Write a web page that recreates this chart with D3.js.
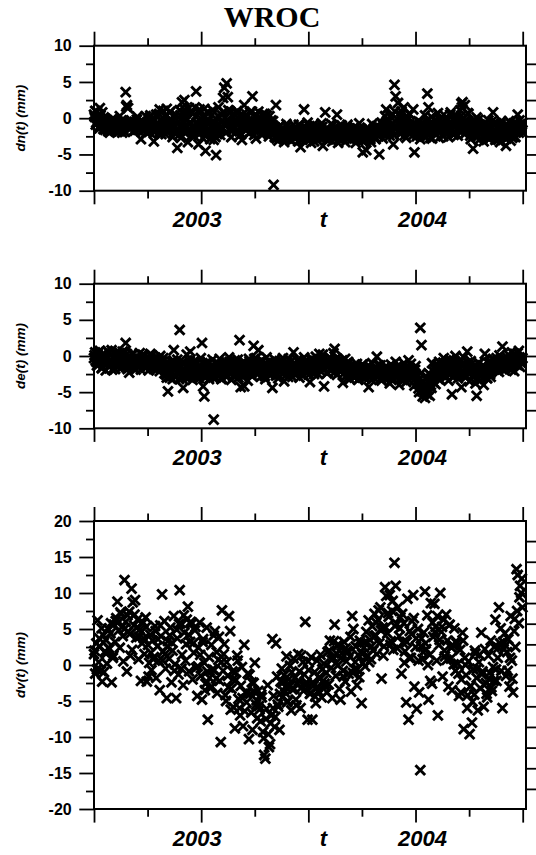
<!DOCTYPE html>
<html>
<head>
<meta charset="utf-8">
<script src="https://cdn.jsdelivr.net/npm/d3@7"></script>
<style>
  body { margin: 0; background: #fff; }
  .tick text { font: bold 16px "Liberation Sans", Arial, sans-serif; fill: #000; }
  .tick line { stroke: #000; stroke-width: 1.8; }
</style>
</head>
<body>
<script>
// sampling starts mid 2002; the main arrays hold one value every 2 days,
// the "2" arrays hold readings from the days in between
const startYear = 2002.5;

const dnValues = [
  0.5, 1.0, -0.6, 0.2, -1.2, 1.4, -0.4, 0.8, -1.5, -0.2,
  -1.1, -0.5, -1.8, -0.7, -1.3, -0.2, -1.6, -0.9, -0.3, -1.9,
  -0.8, -1.4, 0.3, -1.0, -2.0, -0.6, -1.2, 3.6, 1.8, 1.4,
  -0.7, -1.3, -0.4, -1.1, -0.6, -1.7, -0.9, 0.2, -1.4, -0.8,
  -2.9, -1.0, -0.5, -1.6, 0.3, -1.2, -0.7, -1.9, 0.4, -1.1,
  -0.6, -3.2, -1.4, 0.5, -0.9, -2.1, 1.2, -0.3, -1.5, 1.0,
  -0.8, -2.2, 1.3, -0.4, -1.7, 0.9, -1.2, -2.6, 0.2, -1.0,
  -1.8, -4.1, -0.5, 1.1, -2.7, 2.2, -1.3, 2.5, 0.6, -1.9,
  -3.3, 1.4, -0.7, -2.4, 0.8, -1.1, 1.5, 3.7, -0.9, -3.6,
  1.2, -1.6, -0.2, -2.8, 1.3, -4.5, -0.4, -1.8, 0.7, -2.9,
  -1.3, 1.1, -3.0, -0.6, -5.1, -2.2, 1.5, -0.8, -1.7, 0.4,
  2.8, 4.2, -1.1, 4.8, 2.9, -0.5, 0.9, -2.6, -1.4, 0.6,
  -0.3, -1.9, 1.0, -0.8, -2.4, 0.3, -3.0, -0.6, 1.8, -1.2,
  0.5, -0.9, -2.1, 0.8, -0.4, 3.0, -1.5, 0.2, -2.8, -0.7,
  0.9, -1.3, -0.2, -2.3, 0.6, -1.0, -1.8, 0.4, -0.6, -2.5,
  -1.4, -0.3, -2.0, -9.2, -2.6, 1.8, -1.7, -3.1, -2.2, -1.0,
  -2.7, -1.6, -3.3, -2.1, -0.8, -2.5, -1.4, -3.0, -1.9, -2.4,
  -0.9, -2.8, -1.5, -2.2, -3.2, -1.1, -4.0, -2.0, -2.6, 1.2,
  -1.3, -2.9, -0.6, -2.3, -1.7, -3.4, -2.1, -0.9, -2.6, -1.5,
  -3.0, -2.0, -1.2, -2.7, -0.7, -3.8, -1.8, 0.8, -2.4, -1.4,
  -2.9, -1.9, -0.8, -3.2, -2.2, -1.3, -2.6, 0.5, -3.4, -1.7,
  -2.3, -1.0, -2.9, -1.6, -3.3, -2.1, -0.9, -2.5, -1.4, -3.0,
  -2.0, -2.7, -1.2, -3.4, -1.8, -2.4, -0.7, -2.9, -1.5, -4.7,
  -2.2, -3.1, -4.4, -1.3, -2.6, -1.9, -3.3, -0.8, -2.4, -1.6,
  -2.9, -1.1, -2.2, -5.0, -1.7, -0.6, -2.8, -1.2, 0.3, 1.2,
  -1.9, -0.5, -2.4, -1.0, 0.6, -3.6, 4.6, 3.0, -1.3, 2.1,
  -0.4, -2.2, 0.9, -1.6, 1.5, -0.8, -2.7, -0.2, -1.4, 0.5,
  -1.9, -0.9, 1.2, -4.7, -1.3, -2.5, -0.4, -1.8, -2.9, -0.7,
  -2.2, -1.1, 0.4, -2.6, 3.4, 1.5, -1.5, -0.6, -2.8, -1.2,
  -0.3, -2.1, -1.6, 0.7, -2.7, -1.0, -0.5, -2.3, 0.5, -1.4,
  -1.9, -0.2, -2.6, -0.8, 0.8, -1.5, -2.2, -0.4, -1.1, 0.3,
  -2.4, -0.9, 1.1, 2.0, 2.2, -1.3, 1.8, -2.0, -0.6, 0.6,
  -1.7, -2.9, -0.5, -4.2, -1.2, -2.4, 0.1, -1.6, -3.0, -0.9,
  -2.1, -1.4, -3.2, -0.6, -2.5, -1.8, -0.3, -2.8, -1.1, -2.2,
  0.8, -1.6, -3.0, -0.7, -2.3, -1.3, -3.3, -0.4, -2.0, -1.5,
  -2.7, -3.8, -1.0, -2.4, -0.5, -3.1, -1.7, -2.2, -0.8, -2.6,
  -1.2, 0.5, -2.0, -0.9, -1.5, -0.6
];

const dnValues2 = [
  0.2, -0.9, 0.9, -0.3, -1.4, 0.4, -0.8, -1.1, 0.1, -1.6,
  -0.4, -1.5, -0.9, -2.0, -0.6, -1.2, -0.1, -1.7, -0.8, -1.3,
  -0.5, -1.8, -1.1, -0.3, -1.5, -0.9, -1.9, 1.6, -0.6, -1.2,
  -1.5, -0.3, -1.0, -1.8, -0.5, -1.2, -0.2, -1.6, -0.9, -1.3,
  -0.4, -1.7, -0.8, -1.1, -2.0, -0.6, -1.4, 0.1, -0.9, -1.6,
  -1.2, -0.2, -1.8, -0.7, -1.3, 0.6, -1.0, -2.2, -0.5, -1.4,
  0.3, -1.1, -1.9, -0.6, 0.8, -1.5, -0.3, -1.2, -2.0, 0.5,
  -0.7, -1.6, -2.3, 0.4, -1.0, -0.4, -1.9, 1.2, -1.2, -0.2,
  -1.5, -0.8, 0.9, -1.8, -1.1, -2.5, 0.2, -0.6, -1.4, 0.7,
  -2.1, -0.9, -1.5, 0.4, -2.4, -1.1, 0.8, -0.3, -2.0, -1.2,
  0.5, -1.9, -0.7, -2.6, -1.0, 0.3, -1.5, -2.3, -0.4, -1.3,
  0.9, -0.8, -2.0, -0.2, 1.1, -1.4, -0.6, -1.8, 0.2, -1.1,
  -0.5, 0.7, -1.6, -0.1, -1.3, -2.2, 0.5, -0.9, -0.3, -1.7,
  0.2, -1.2, -0.6, -1.9, 0.9, -0.8, -2.3, -0.4, 0.4, -1.4,
  -0.9, 0.1, -1.6, -0.5, -2.1, 0.6, -1.1, -0.3, -1.8, 0.3,
  -0.8, -1.5, -0.4, -2.2, -1.3, -2.8, -1.9, -1.2, -2.6, -2.0,
  -1.5, -2.9, -1.8, -2.4, -1.1, -2.7, -2.0, -1.6, -3.1, -2.3,
  -1.8, -1.3, -2.6, -2.0, -0.9, -2.4, -1.7, -3.0, -1.4, -2.2,
  -2.5, -1.6, -2.0, -1.1, -2.8, -1.5, -2.3, -3.2, -1.8, -2.1,
  -1.4, -2.6, -1.9, -2.3, -1.2, -2.7, -2.0, -1.5, -3.0, -2.2,
  -1.7, -2.4, -2.0, -1.0, -2.7, -1.8, -2.2, -1.4, -2.9, -2.1,
  -1.5, -2.5, -1.9, -2.2, -1.2, -2.8, -2.0, -1.6, -2.4, -1.8,
  -2.3, -1.4, -2.6, -2.0, -2.9, -1.6, -2.2, -1.8, -3.1, -2.4,
  -1.7, -2.0, -2.6, -1.5, -2.3, -2.9, -1.9, -2.2, -1.4, -2.7,
  -2.1, -1.8, -2.5, -1.3, -2.0, -1.6, -1.0, -2.2, -1.5, -0.4,
  -1.1, -2.0, 0.2, -1.6, -0.8, -2.3, 0.9, -1.3, -0.2, -1.9,
  -1.0, 0.4, -1.8, -0.6, -2.4, -1.2, 0.3, -1.5, -0.9, -2.1,
  -1.3, -2.4, -0.7, -1.8, -1.0, -2.2, -1.5, -0.5, -2.0, -1.6,
  -0.9, -2.5, -1.4, -0.3, -1.9, -1.2, -2.7, 0.2, -1.7, -0.8,
  -1.5, -2.3, -0.6, -1.2, -0.1, -1.8, -1.3, -2.5, -0.9, -1.6,
  -0.4, -2.0, -1.1, 0.5, -1.6, -0.7, -2.3, -1.0, 0.2, -1.4,
  -0.6, -1.8, 0.3, 1.5, -0.9, -2.2, -0.3, -1.4, 0.7, -1.1,
  -2.4, -0.8, -1.5, -2.0, -0.4, -1.7, -2.6, -0.2, -1.3, -2.1,
  -1.4, -2.6, -0.9, -1.9, -2.3, -1.2, -2.9, -1.6, -0.5, -2.0,
  -1.8, -0.6, -2.4, -1.2, -3.0, -1.9, -0.9, -2.5, -1.4, -2.2,
  -1.0, -2.8, -1.6, -0.4, -2.1, -1.3, -2.7, -0.7, -1.5, -2.0,
  -0.8, -1.6, -0.3, -1.1, -1.9
];

const deValues = [
  -0.3, 0.5, -0.8, 0.2, -1.2, 0.7, -0.5, -1.6, 0.3, -0.9,
  -2.0, -0.2, 0.6, -1.3, -0.6, 0.8, -1.0, -0.4, -1.8, 0.1,
  -0.7, -1.4, 0.4, -0.2, -1.1, -0.6, 0.5, 1.8, 0.3, -1.5,
  -2.3, -0.4, -1.0, 0.2, -1.7, -0.6, -0.1, -1.3, -0.8, 0.4,
  -1.9, -0.5, -1.1, 0.0, -0.7, -1.5, -0.3, -0.9, 0.3, -1.2,
  -0.6, -1.8, -0.2, -1.0, -1.4, -0.4, -2.1, -0.8, -1.6, -0.3,
  -2.4, -1.1, -3.0, -4.9, -1.6, -2.6, -0.8, -3.2, 0.8, -1.9,
  -2.8, -0.5, -2.2, 3.6, -1.4, -3.1, -4.4, -1.0, -2.5, 0.2,
  -1.7, -2.9, 0.6, -1.2, -3.3, -2.0, -0.6, -2.7, -3.0, -1.5,
  -2.3, -0.3, 1.8, -4.2, -5.6, -1.9, -2.8, -0.9, -3.2, -1.6,
  -2.5, -0.5, -8.8, -2.1, -3.0, -1.2, -2.6, -0.4, -1.8, -3.1,
  -1.4, -2.4, -0.7, -2.9, -1.6, -0.2, -2.2, -3.3, -1.1, -2.0,
  -0.6, -2.7, -1.5, -3.0, 2.2, -4.3, -1.9, -0.8, -4.2, -2.6,
  -1.2, -3.4, -0.4, -2.1, -1.0, -2.8, 1.4, -1.7, -0.3, -2.4,
  0.8, -1.4, -2.9, -0.6, -2.0, -1.1, -3.2, -0.2, -1.8, -2.5,
  -0.9, -2.2, -4.4, -1.5, -0.5, -2.7, -1.3, -3.1, -0.7, -2.0,
  -1.6, -0.3, -3.5, -1.9, -2.6, -1.0, -0.4, -2.3, -1.4, -2.9,
  0.5, -1.2, -2.1, -0.6, -1.7, -3.0, -0.9, -2.4, -1.1, -0.2,
  -2.0, -1.5, -0.7, -2.6, -3.6, -1.3, -0.4, -1.8, -2.2, -0.1,
  -1.0, -2.5, 0.3, -0.5, -1.6, 0.2, -4.2, -1.2, -0.8, -2.3,
  -1.4, -0.3, -2.0, -1.1, 0.4, 1.0, -1.7, -2.6, -0.6, -1.3,
  -2.2, -0.9, -3.7, -1.5, -0.4, -2.7, -1.8, -1.0, -3.2, -2.1,
  -2.6, -1.4, -3.0, -2.0, -1.1, -3.3, -2.4, -1.7, -2.9, -1.2,
  -2.2, -3.1, -1.6, -2.7, -4.3, -1.9, -2.5, -1.0, -3.0, -2.3,
  -1.5, -0.1, -2.8, -2.0, -1.3, -3.4, -2.5, -1.8, -2.2, -3.0,
  -1.6, -2.7, -3.8, -1.2, -2.4, -3.2, -1.9, -0.8, -2.9, -2.1,
  -4.0, -1.5, -2.6, -3.3, -1.0, -2.3, -3.6, -1.8, -0.6, -2.7,
  -1.1, -3.0, -2.0, -4.1, -1.4, -2.8, -3.5, -5.0, 3.9, 1.5,
  -5.6, -4.4, -5.8, -3.2, -5.3, -2.4, -5.5, -4.0, -1.0, -3.6,
  -2.2, -3.9, -1.3, -2.7, -0.8, -3.3, -1.9, -2.5, -0.3, -1.6,
  -2.9, -1.0, -3.4, -0.5, -2.2, -5.3, -1.4, -2.8, 0.0, -1.8,
  -3.1, -0.9, -2.4, -4.3, -1.2, -0.2, -2.6, -1.5, 0.6, -2.0,
  -3.5, -0.7, -1.9, -2.8, -1.3, -3.8, -5.5, -2.2, -1.0, -3.4,
  -1.6, -2.5, -4.0, 0.3, -1.8, -3.1, -2.3, -0.8, -2.9, -1.4,
  -0.4, -1.9, -1.1, -0.3, -1.6, -2.2, -0.7, -1.3, 1.3, -0.9,
  -2.0, -0.5, -1.4, 0.2, -1.0, -1.7, 0.5, -0.8, -2.1, -0.2,
  -1.2, 0.4, 0.7, -1.5, -0.6, -0.3
];

const deValues2 = [
  0.1, -0.6, -1.3, 0.5, -0.2, -0.9, -1.7, 0.3, -0.4, -1.1,
  -0.5, 0.7, -1.4, -0.8, 0.2, -1.9, -0.3, -1.0, 0.4, -0.7,
  -1.5, -0.1, -0.9, -1.6, 0.6, -0.4, -1.2, -0.7, -1.8, 0.0,
  -0.8, -1.4, 0.3, -0.5, -1.1, -1.9, -0.2, -0.9, -1.5, -0.4,
  -1.2, 0.2, -0.7, -1.6, -0.3, -1.0, -2.0, -0.6, -1.3, 0.1,
  -0.9, -1.5, -0.4, -1.9, -0.7, -1.2, 0.0, -1.6, -0.8, -1.3,
  -1.7, -2.6, -1.0, -2.1, -3.0, -1.4, -2.3, -0.6, -2.8, -1.8,
  -1.2, -2.5, -3.2, -1.6, -2.0, -0.9, -2.7, -1.9, -3.0, -1.3,
  -2.2, -0.7, -2.6, -1.5, -2.9, -1.8, -2.3, -1.1, -2.0, -3.1,
  -1.4, -2.5, -1.0, -2.8, -1.7, -2.2, -0.8, -2.6, -1.9, -2.4,
  -1.2, -3.0, -1.7, -2.3, -0.9, -2.7, -1.5, -2.0, -3.2, -1.3,
  -2.1, -1.0, -2.6, -1.7, -2.3, -0.8, -2.0, -1.4, -2.8, -1.1,
  -1.9, -2.5, -0.5, -1.6, -2.2, -1.2, -2.9, -1.8, -0.9, -2.3,
  -1.5, -2.0, -0.7, -2.6, -1.3, -1.9, -0.4, -2.2, -1.6, -1.0,
  -2.4, -1.7, -0.6, -2.1, -1.4, -2.8, -1.0, -1.8, -2.3, -0.8,
  -1.6, -2.5, -1.2, -2.0, -0.9, -1.7, -2.6, -1.1, -2.2, -1.4,
  -0.7, -2.4, -1.8, -1.1, -2.0, -2.9, -1.5, -0.8, -2.2, -1.6,
  -1.0, -2.5, -1.3, -1.9, -0.6, -2.2, -1.4, -1.8, -2.7, -0.9,
  -1.5, -2.3, -1.1, -1.7, -0.5, -2.0, -1.3, -2.5, -0.8, -1.6,
  -0.6, -1.5, -2.0, -0.9, -1.3, -0.4, -1.8, -1.1, -2.4, -0.7,
  -1.2, -1.9, -0.5, -1.6, -0.9, -2.2, -0.3, -1.4, -1.0, -2.0,
  -1.3, -0.6, -1.7, -2.3, -1.1, -1.9, -0.8, -2.5, -1.5, -2.0,
  -1.8, -2.9, -2.2, -1.5, -2.6, -3.2, -1.9, -2.4, -1.2, -2.7,
  -3.0, -1.7, -2.3, -2.0, -1.4, -2.8, -3.3, -1.9, -2.5, -1.6,
  -2.2, -2.9, -1.3, -2.6, -3.1, -1.8, -2.1, -2.7, -1.5, -2.4,
  -2.9, -1.9, -2.3, -3.3, -1.6, -2.6, -2.0, -3.0, -1.4, -2.5,
  -2.2, -3.1, -1.8, -2.4, -2.8, -1.5, -2.1, -3.2, -2.6, -1.7,
  -2.9, -2.3, -3.4, -1.9, -2.7, -3.8, -4.5, -3.1, -2.4, -4.9,
  -3.6, -5.1, -4.2, -2.9, -4.7, -3.3, -2.6, -4.4, -3.0, -2.2,
  -1.8, -2.8, -1.2, -3.2, -2.0, -1.5, -2.6, -0.9, -2.3, -1.4,
  -2.1, -0.8, -1.7, -2.5, -1.1, -2.9, -0.6, -1.9, -2.4, -1.2,
  -1.6, -2.7, -0.5, -1.4, -2.2, -1.0, -3.0, -1.8, -0.9, -2.5,
  -1.3, -2.1, -2.8, -1.5, -2.4, -1.9, -3.2, -1.0, -2.6, -2.0,
  -2.7, -1.3, -2.2, -1.6, -3.0, -0.9, -2.0, -2.5, -1.4, -1.9,
  -1.2, -0.6, -1.7, -0.9, -1.4, 0.1, -1.0, -1.8, -0.5, -1.3,
  -0.8, -1.5, -0.3, -1.2, -0.7, -1.9, -0.4, -1.1, 0.3, -1.0,
  -0.5, -1.3, -0.2, -0.9, -0.4
];

const dvValues = [
  1.5, -1.2, 3.0, 6.2, 0.4, 2.6, -0.8, -2.3, 4.1, 1.8,
  3.5, 0.2, 5.0, 2.2, 4.4, -2.4, 1.0, 5.6, 3.2, 6.5,
  8.8, 4.8, 2.4, 7.1, 5.3, 0.5, 11.8, 6.0, -0.9, 4.6,
  7.4, 1.3, 10.6, 8.7, 5.5, 9.0, 3.8, 6.3, 0.8, 4.9,
  -2.2, 3.0, 5.9, 1.5, 6.6, -2.3, 2.8, 0.3, 4.2, -0.7,
  3.4, 1.1, 5.4, -1.8, 2.6, 0.6, -3.5, 4.0, 9.8, 1.9,
  6.1, -0.5, -4.6, 3.3, 0.9, 5.2, -2.4, 2.0, 6.8, 0.1,
  -4.6, 3.7, -1.3, 10.4, 5.8, 1.4, -2.8, 4.5, 0.6, 6.3,
  8.1, -0.9, 3.2, 5.7, -2.0, 1.7, 4.8, -0.4, -4.3, 2.4,
  5.9, -1.5, -4.8, 3.6, 0.3, -2.6, 5.2, -7.6, 1.1, -3.2,
  2.8, -0.6, 4.1, 4.7, -1.9, -3.9, 0.7, -2.2, -10.7, 7.6,
  -0.8, 2.9, -4.2, 0.4, -1.5, 6.8, 4.7, -3.3, -0.9, -5.9,
  -8.8, -2.1, 1.3, -4.7, -6.0, -2.9, -0.3, -8.5, 2.8, -3.8,
  -5.2, -1.2, -10.3, -4.0, -6.6, -9.0, -2.5, 0.3, -5.5, -7.4,
  -3.6, -6.2, -7.8, -4.5, -9.3, -12.5, -13.0, -6.1, -2.8, -11.4,
  -11.0, -7.0, 3.6, -4.3, -8.6, 3.0, -1.6, -5.8, -9.0, -2.3,
  -0.5, -4.4, -1.4, -3.0, 1.2, -5.0, -2.0, -0.1, -6.3, -3.4,
  0.9, -1.8, -4.8, -2.6, 1.5, -0.9, -6.0, -3.1, 0.4, -1.3,
  6.0, -2.4, -7.6, -0.7, -4.0, 1.1, -7.6, -2.9, -1.0, -5.3,
  0.6, -3.6, -1.7, 1.4, -4.5, -2.2, 0.2, -3.0, -1.1, 1.8,
  -2.7, 3.4, -0.4, -4.6, 1.0, 5.6, -1.5, 2.7, 0.0, -3.3,
  -4.8, 1.6, -0.8, 3.2, -2.3, 0.5, 2.0, -1.2, 1.2, -3.7,
  6.8, 5.0, -0.6, 2.6, -2.8, 1.4, -1.7, 3.0, -5.3, 0.3,
  2.4, -0.2, 4.6, 1.3, 6.2, 3.5, 0.8, 5.4, 2.0, 7.1,
  4.1, 1.5, 6.3, 3.0, 8.0, -1.9, 5.2, 2.6, 10.8, 9.6,
  4.4, 6.7, 9.7, 3.3, 7.5, 2.1, 14.2, 11.0, 5.7, 8.0,
  4.0, 6.6, -1.2, 3.1, 5.8, 1.9, -5.2, 9.2, -7.6, 4.7,
  1.0, 6.1, 9.7, -3.0, 2.5, -6.1, 5.0, -3.8, -14.6, 3.7,
  0.8, 4.5, 10.2, 2.2, 6.9, -4.8, 1.4, 8.6, -2.6, 3.9,
  8.5, 5.3, 0.6, -7.0, 2.8, 10.0, 4.6, -1.6, 6.3, 1.2,
  7.0, 3.4, -3.0, 5.6, 0.9, -3.5, 2.7, 5.1, -0.8, 3.0,
  0.2, -4.3, 2.1, -2.0, 4.5, -8.9, 1.0, -1.4, -6.0, 0.5,
  -9.6, -2.9, -8.0, -0.6, -4.1, 1.6, -1.8, -6.3, 0.4, -3.2,
  4.5, -0.9, -5.8, 2.2, -2.5, -4.5, 1.3, -1.1, 3.4, -3.6,
  -0.3, 2.5, 6.3, -2.2, 1.0, 8.0, 3.0, -0.8, -6.0, 2.2,
  4.4, -1.5, 1.8, 3.6, -3.0, 6.8, 0.6, -3.8, 4.7, 2.5,
  13.3, 12.5, 5.8, 11.0, 10.0, 8.0
];

// dv has sparser in-between readings: one every 4 days
const dvValues2 = [
  2.0, -0.6, 3.7, 5.1, -1.0, 1.6, 2.4, 5.8, 1.3, 6.1,
  5.9, 7.3, 4.0, 5.1, 6.9, 4.3, 2.1, 7.0, 5.2, 3.9,
  4.6, 3.7, 5.3, -1.6, 1.7, 0.8, 4.7, 3.6, 5.5, 0.6,
  1.5, 2.6, 4.1, 3.1, -0.8, 4.9, 5.7, -0.5, 6.9, 2.9,
  4.2, 6.0, 3.0, 5.3, -0.2, 1.4, 3.2, -3.5, -0.9, -1.8,
  -3.0, -0.7, 1.8, 3.9, 0.4, 1.5, -5.0, -3.1, -6.2, -2.0,
  -1.0, 0.6, -7.0, -4.6, -6.4, -3.9, -1.4, -2.4, -3.7, -4.9,
  -5.7, -4.1, -10.2, -7.5, -9.6, -8.1, -6.0, -7.2, -5.5, -4.0,
  -2.5, -3.8, -5.2, -2.9, -1.0, -3.3, -5.6, -2.2, 1.3, -3.6,
  -2.8, 0.5, -3.9, -2.4, -4.4, -3.1, -1.9, -0.6, -2.6, -3.8,
  2.0, 0.7, 3.3, 1.6, 2.8, 1.0, -1.6, 2.3, 1.8, 3.9,
  -1.1, 0.4, -0.6, 3.4, 1.5, 3.1, 1.2, 0.4, 2.6, 4.0,
  5.9, 7.6, 4.8, 1.3, 5.2, 7.2, 2.8, 8.9, 5.4, 2.3,
  5.1, 7.1, 0.3, 3.2, 1.0, 4.3, 6.5, 3.7, 0.6, 2.6,
  1.8, 3.0, 0.0, -2.2, 5.9, 4.6, 6.8, 3.5, 5.3, 2.0,
  0.7, 5.5, 2.4, 0.1, 3.3, -1.2, -3.8, 3.4, 0.0, -4.2,
  -3.0, -5.1, 2.0, -0.5, 1.4, -1.3, -2.8, -4.0, -1.9, -3.1,
  -2.2, -0.6, 2.4, 5.1, 3.2, 2.7, -0.8, 1.0, -1.9, 6.4,
  7.5, 9.4, 12.0
];

const yLabels = ["dn(t) (mm)", "de(t) (mm)", "dv(t) (mm)"];
const xLabels = ["2003", "t", "2004"];
const title = "WROC";

const width = 536, height = 855;
const font = '"Liberation Sans", Arial, sans-serif';

const svg = d3.select("body").append("svg")
  .attr("width", width)
  .attr("height", height);

// x scale shared by all three panels
const x = d3.scaleLinear().domain([2002.5, 2004.5]).range([94, 522.7]);
const boxLeft = 94, boxRight = 526;

// each series: values, day step, day offset
const panels = [
  {label: yLabels[0], domain: [-10, 10], top: 45.7, bottom: 190.7,
   series: [[dnValues, 2, 0], [dnValues2, 2, 1]]},
  {label: yLabels[1], domain: [-10, 10], top: 283.7, bottom: 428.3,
   series: [[deValues, 2, 0], [deValues2, 2, 1]]},
  {label: yLabels[2], domain: [-20, 20], top: 521, bottom: 809,
   series: [[dvValues, 2, 0], [dvValues2, 4, 1]]}
];

const halfYears = [2002.5, 2003, 2003.5, 2004, 2004.5];
const quarterYears = [2002.75, 2003.25, 2003.75, 2004.25];

const symbolType = d3.symbolTimes || d3.symbolX;
const marker = d3.symbol().type(symbolType).size(40);

svg.append("text")
   .attr("x", 272)
   .attr("y", 27)
   .attr("text-anchor", "middle")
   .style("font", 'bold 30px "Liberation Serif", "Times New Roman", serif')
   .text(title);

panels.forEach((p, k) => {
  const y = d3.scaleLinear().domain(p.domain).range([p.bottom, p.top]);
  const lim = p.domain[1];
  const g = svg.append("g");

  const pts = p.series.flatMap(([vals, step, off]) =>
    vals.map((v, i) => ({t: startYear + (i * step + off) / 365.25, v})));

  g.append("g")
   .selectAll("path")
   .data(pts)
   .join("path")
   .attr("d", marker)
   .attr("transform", d => `translate(${x(d.t)},${y(d.v)})`)
   .attr("fill", "none")
   .attr("stroke", "#000")
   .attr("stroke-width", 2.9)
   .attr("stroke-linecap", "square");

  const major = d3.range(-lim, lim + 0.1, 5);
  const minor = d3.range(-lim + 2.5, lim, 5);

  // left axis
  g.append("g")
   .attr("transform", `translate(${boxLeft},0)`)
   .call(d3.axisLeft(y).tickValues(major).tickSize(14.7).tickPadding(7.6).tickFormat(d => String(d)))
   .call(a => a.select(".domain").remove());
  g.append("g")
   .attr("transform", `translate(${boxLeft},0)`)
   .call(d3.axisLeft(y).tickValues(minor).tickSize(8).tickFormat(""))
   .call(a => a.select(".domain").remove());

  // top axis
  g.append("g")
   .attr("transform", `translate(0,${p.top})`)
   .call(d3.axisTop(x).tickValues(halfYears).tickSize(14).tickFormat(""))
   .call(a => a.select(".domain").remove());
  g.append("g")
   .attr("transform", `translate(0,${p.top})`)
   .call(d3.axisTop(x).tickValues(quarterYears).tickSize(7.5).tickFormat(""))
   .call(a => a.select(".domain").remove());

  // bottom axis
  g.append("g")
   .attr("transform", `translate(0,${p.bottom})`)
   .call(d3.axisBottom(x).tickValues(halfYears).tickSize(13.6).tickFormat(""))
   .call(a => a.select(".domain").remove());
  g.append("g")
   .attr("transform", `translate(0,${p.bottom})`)
   .call(d3.axisBottom(x).tickValues(quarterYears).tickSize(7.7).tickFormat(""))
   .call(a => a.select(".domain").remove());

  // right axis (the dv panel uses its own tick spacing)
  let yR, rightTicks;
  if (k < 2) {
    yR = y;
    rightTicks = d3.range(-lim + 2.5, lim - 0.1, 2.5);
  } else {
    const half = (p.bottom - p.top) / 2 / 20.65;
    yR = d3.scaleLinear().domain([-half, half]).range([p.bottom, p.top]);
    rightTicks = d3.range(-6, 7, 1);
  }
  g.append("g")
   .attr("transform", `translate(${boxRight},0)`)
   .call(d3.axisRight(yR).tickValues(rightTicks).tickSize(12).tickFormat(""))
   .call(a => a.select(".domain").remove());

  // frame
  g.append("rect")
   .attr("x", boxLeft)
   .attr("y", p.top)
   .attr("width", boxRight - boxLeft)
   .attr("height", p.bottom - p.top)
   .attr("fill", "none")
   .attr("stroke", "#000")
   .attr("stroke-width", 2);

  // y title
  g.append("text")
   .attr("transform", `translate(25,${(p.top + p.bottom) / 2}) rotate(-90)`)
   .attr("text-anchor", "middle")
   .style("font", `italic bold 13.5px ${font}`)
   .text(p.label);

  // x labels
  const labelY = p.bottom + 36.6;
  const labelX = [x(2003) - 4, x(2003.5) + 15, x(2004) + 7];
  xLabels.forEach((t, j) => {
    g.append("text")
     .attr("x", labelX[j])
     .attr("y", labelY)
     .attr("text-anchor", "middle")
     .style("font", `italic bold 22px ${font}`)
     .text(t);
  });
});
</script>
</body>
</html>
